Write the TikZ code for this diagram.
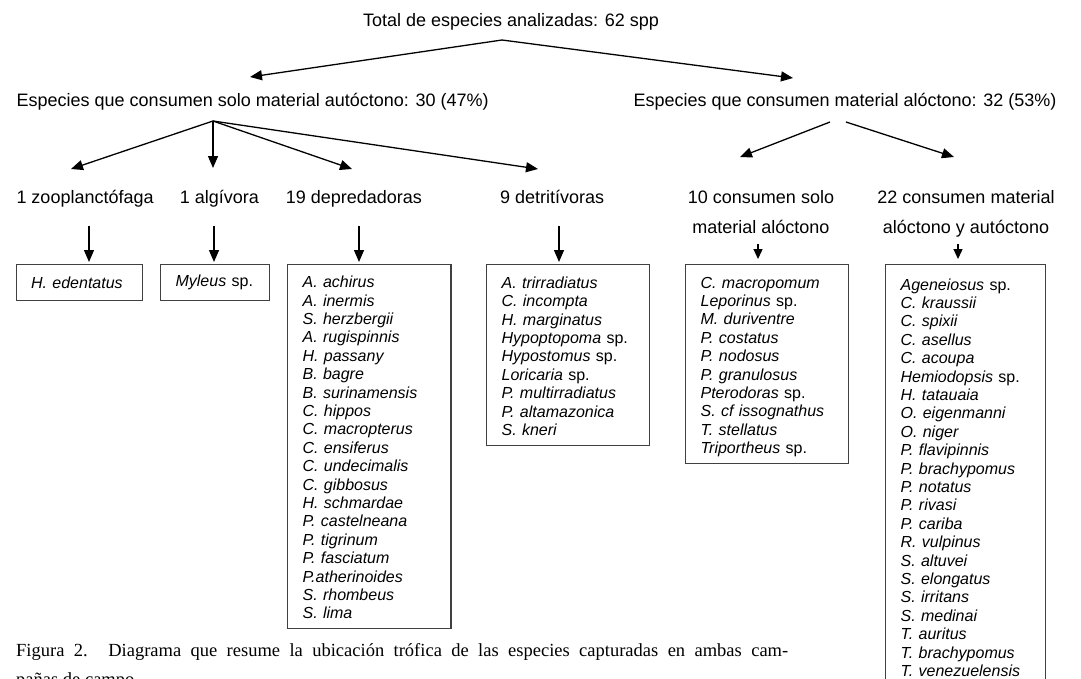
\documentclass[tikz,border=0pt]{standalone}
\usepackage{fontspec}
\setmainfont{Liberation Serif}
\setsansfont{Liberation Sans}
\usetikzlibrary{arrows.meta}
\newcommand{\gsp}[1]{\textit{#1} sp.}
\newcommand{\topstrut}{\rule{0pt}{19pt}}
\tikzset{
  lbl/.style={font=\sffamily\fontsize{18}{30}\selectfont, inner sep=0pt},
  arr/.style={line width=1.3pt, -{Triangle[length=12pt,width=10pt]}},
  sarr/.style={line width=1.3pt, -{Triangle[length=10pt,width=9pt]}},
  listbox/.style={draw=black!75, line width=1.2pt, anchor=north west, inner xsep=15pt,
    inner ysep=0pt, align=left, font=\sffamily\fontsize{16}{18.4}\selectfont},
}
\begin{document}
\begin{tikzpicture}[x=1pt,y=-1pt]
\useasboundingbox (0,0) rectangle (1081,678);
\clip (0,0) rectangle (1081,678);
\fill[white] (0,0) rectangle (1081,678);

% level 1 and 2
\node[lbl, anchor=base] (t) at (511,26) {Total de especies analizadas: 62 spp};
\coordinate (ta) at (502,40);
\node[lbl, anchor=base west] (aut) at (16.5,106) {Especies que consumen solo material autóctono: 30 (47\%)};
\node[lbl, anchor=base] (alo) at (845,106) {Especies que consumen material alóctono: 32 (53\%)};
\coordinate (autT) at (250,77);
\coordinate (aloT) at (793,78);
\draw[arr] (ta) -- (autT);
\draw[arr] (ta) -- (aloT);

% level 3 (left)
\coordinate (a1) at (213,121);
\node[lbl, anchor=base west] (zoo) at (16.3,203) {1 zooplanctófaga};
\node[lbl, anchor=base west] (alg) at (179.6,203) {1 algívora};
\node[lbl, anchor=base west] (dep) at (285.7,203) {19 depredadoras};
\node[lbl, anchor=base west] (det) at (500,203) {9 detritívoras};
\coordinate (zooT) at (71,169);
\coordinate (algT) at (213,168);
\coordinate (depT) at (352,169);
\coordinate (detT) at (538,169);
\draw[arr] (a1) -- (zooT);
\draw[arr] (a1) -- (algT);
\draw[arr] (a1) -- (depT);
\draw[arr] (a1) -- (detT);

% level 3 (right)
\coordinate (r1s) at (830,122);
\coordinate (r2s) at (846,122);
\coordinate (c10T) at (740,157);
\coordinate (c22T) at (954,157);
\draw[arr] (r1s) -- (c10T);
\draw[arr] (r2s) -- (c22T);
\node[lbl, align=center, anchor=north] (c10) at (761,189.9) {10 consumen solo\\material alóctono};
\node[lbl, align=center, anchor=north] (c22) at (966,189.9) {22 consumen material\\alóctono y autóctono};

% boxes
\node[listbox, text width=96.5pt, minimum height=36pt] (b1) at (15.5,264) {\textit{H. edentatus}};
\node[listbox, text width=78.6pt, minimum height=36pt] (b2) at (160,264) {\gsp{Myleus}};
\node[listbox, text width=133.4pt, minimum height=364pt] (b3) at (287,264) {\topstrut\textit{A. achirus}\\
\textit{A. inermis}\\
\textit{S. herzbergii}\\
\textit{A. rugispinnis}\\
\textit{H. passany}\\
\textit{B. bagre}\\
\textit{B. surinamensis}\\
\textit{C. hippos}\\
\textit{C. macropterus}\\
\textit{C. ensiferus}\\
\textit{C. undecimalis}\\
\textit{C. gibbosus}\\
\textit{H. schmardae}\\
\textit{P. castelneana}\\
\textit{P. tigrinum}\\
\textit{P. fasciatum}\\
\textit{P.atherinoides}\\
\textit{S. rhombeus}\\
\textit{S. lima}\strut};
\node[listbox, text width=133pt, minimum height=181pt] (b4) at (486,264) {\topstrut\textit{A. trirradiatus}\\
\textit{C. incompta}\\
\textit{H. marginatus}\\
\gsp{Hypoptopoma}\\
\gsp{Hypostomus}\\
\gsp{Loricaria}\\
\textit{P. multirradiatus}\\
\textit{P. altamazonica}\\
\textit{S. kneri}\strut};
\node[listbox, text width=133pt, minimum height=199pt] (b5) at (685,264) {\topstrut\textit{C. macropomum}\\
\gsp{Leporinus}\\
\textit{M. duriventre}\\
\textit{P. costatus}\\
\textit{P. nodosus}\\
\textit{P. granulosus}\\
\gsp{Pterodoras}\\
\textit{S. cf issognathus}\\
\textit{T. stellatus}\\
\gsp{Triportheus}\strut};
\node[listbox, text width=130pt, minimum height=424pt] (b6) at (885,264) {\topstrut\gsp{Ageneiosus}\\
\textit{C. kraussii}\\
\textit{C. spixii}\\
\textit{C. asellus}\\
\textit{C. acoupa}\\
\gsp{Hemiodopsis}\\
\textit{H. tatauaia}\\
\textit{O. eigenmanni}\\
\textit{O. niger}\\
\textit{P. flavipinnis}\\
\textit{P. brachypomus}\\
\textit{P. notatus}\\
\textit{P. rivasi}\\
\textit{P. cariba}\\
\textit{R. vulpinus}\\
\textit{S. altuvei}\\
\textit{S. elongatus}\\
\textit{S. irritans}\\
\textit{S. medinai}\\
\textit{T. auritus}\\
\textit{T. brachypomus}\\
\textit{T. venezuelensis}\strut};

% down arrows
\coordinate (d1) at (89,226);
\coordinate (d2) at (214,226);
\coordinate (d3) at (359,226);
\coordinate (d4) at (559,226);
\coordinate (d5) at (758,244);
\coordinate (d6) at (958,244);
\draw[arr, shorten >=2pt] (d1) -- (d1 |- b1.north);
\draw[arr, shorten >=2pt] (d2) -- (d2 |- b2.north);
\draw[arr, shorten >=2pt] (d3) -- (d3 |- b3.north);
\draw[arr, shorten >=2pt] (d4) -- (d4 |- b4.north);
\draw[sarr, shorten >=5pt] (d5) -- (d5 |- b5.north);
\draw[sarr, shorten >=5pt] (d6) -- (d6 |- b6.north);

% caption
\node[anchor=north west, inner sep=0pt, align=left, font=\rmfamily\fontsize{18.5}{29}\selectfont] (cap) at (16,643.3)
  {\makebox[772pt][s]{Figura 2. Diagrama que resume la ubicación trófica de las especies capturadas en ambas cam-}\\pañas de campo.};
\end{tikzpicture}
\end{document}
